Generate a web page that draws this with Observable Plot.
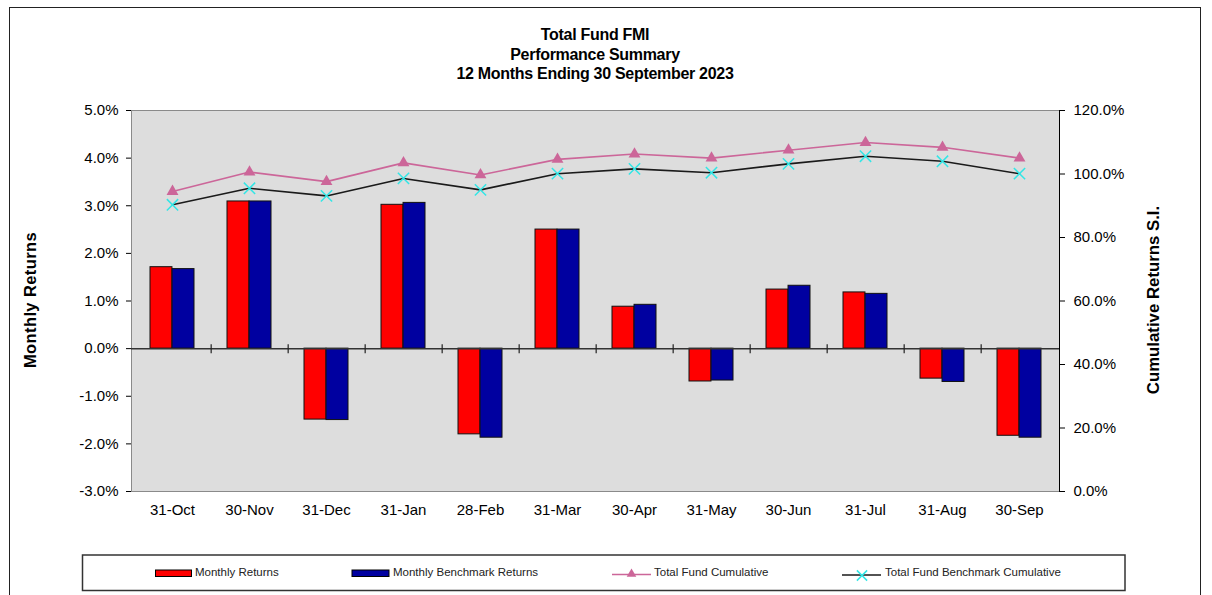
<!DOCTYPE html>
<html><head><meta charset="utf-8">
<script src="https://cdn.jsdelivr.net/npm/d3@7"></script>
<script src="https://cdn.jsdelivr.net/npm/@observablehq/plot@0.6"></script>
<style>
body{margin:0;background:#fff;font-family:"Liberation Sans",Arial,sans-serif;}
#wrap{position:relative;width:1212px;height:595px;overflow:hidden;background:#fff;}
#border{position:absolute;left:9px;top:7px;width:1192px;height:640px;border:1.5px solid #222;box-sizing:border-box;}
#title{position:absolute;left:0;width:1190px;top:25px;text-align:center;font-weight:bold;font-size:16px;line-height:19.5px;letter-spacing:-0.3px;color:#000;}
.plot{position:absolute;left:0;top:0;}
.ytitle{position:absolute;white-space:nowrap;transform:translate(-50%,-50%) rotate(-90deg);color:#000;}
#legend{position:absolute;left:0;top:0;}
</style>
</head><body>
<div id="wrap">
  <div id="border"></div>
  <div id="title"></div>
  <div id="p1" class="plot"></div>
  <div id="p2" class="plot"></div>
  <div id="ytl" class="ytitle" style="left:30px;top:300px;font-weight:bold;font-size:16.5px;letter-spacing:0.4px;"></div>
  <div id="ytr" class="ytitle" style="left:1154px;top:300px;font-weight:bold;font-size:16.8px;"></div>
  <svg id="legend" width="1212" height="595"></svg>
</div>
<script>
const titleLines = ["Total Fund FMI", "Performance Summary", "12 Months Ending 30 September 2023"];
const leftAxisTitle = "Monthly Returns";
const rightAxisTitle = "Cumulative Returns S.I.";
const months = ["31-Oct","30-Nov","31-Dec","31-Jan","28-Feb","31-Mar","30-Apr","31-May","30-Jun","31-Jul","31-Aug","30-Sep"];
const monthlyReturns = [1.71, 3.09, -1.49, 3.02, -1.80, 2.50, 0.88, -0.69, 1.24, 1.18, -0.63, -1.83];
const benchmarkReturns = [1.67, 3.09, -1.50, 3.06, -1.87, 2.50, 0.92, -0.67, 1.32, 1.15, -0.70, -1.87];
const fundCumulative = [94.5, 100.6, 97.6, 103.5, 99.7, 104.6, 106.3, 105.0, 107.5, 109.9, 108.4, 105.0];
const benchCumulative = [90.3, 95.5, 93.1, 98.6, 95.0, 100.1, 101.6, 100.4, 103.2, 105.6, 104.0, 100.1];
const leftTicks = [-3, -2, -1, 0, 1, 2, 3, 4, 5];
const rightTicks = [0, 20, 40, 60, 80, 100, 120];
const seriesNames = ["Monthly Returns", "Monthly Benchmark Returns", "Total Fund Cumulative", "Total Fund Benchmark Cumulative"];
const colors = {fund: "#FF0000", bench: "#0000A0", fundCum: "#CC6699", benchCum: "#1a1a1a", cross: "#33E6E6"};

document.getElementById("title").innerHTML = titleLines.join("<br>");
document.getElementById("ytl").textContent = leftAxisTitle;
document.getElementById("ytr").textContent = rightAxisTitle;

const data = months.map((m, i) => ({month: m, fund: monthlyReturns[i], bench: benchmarkReturns[i], fundCum: fundCumulative[i], benchCum: benchCumulative[i]}));

const W = 1212, H = 540, mL = 131, mR = 153, mT = 110, mB = 49;
const pad = 0.43;
const step = (W - mL - mR) / months.length;
const bw = step * (1 - pad);
const font = '"Liberation Sans", Arial, sans-serif';
const xOpts = {domain: months, paddingInner: pad, paddingOuter: pad / 2};
const style = {fontFamily: font, fontSize: "15px", color: "#000", background: "transparent", overflow: "visible"};

const p1 = Plot.plot({
  width: W, height: H, marginLeft: mL, marginRight: mR, marginTop: mT, marginBottom: mB,
  style,
  x: {...xOpts, label: null, tickSize: 0, tickPadding: 13, line: true},
  y: {domain: [leftTicks[0], leftTicks[leftTicks.length - 1]], ticks: leftTicks, tickFormat: d => d.toFixed(1) + "%", label: null, tickSize: 5, tickPadding: 8, line: true},
  marks: [
    Plot.frame({fill: "#DDDDDD", stroke: "#8a8a8a"}),
    Plot.barY(data, {x: "month", y: "fund", fill: colors.fund, stroke: "#111", strokeWidth: 1, insetRight: bw / 2}),
    Plot.barY(data, {x: "month", y: "bench", fill: colors.bench, stroke: "#111", strokeWidth: 1, insetLeft: bw / 2}),
    Plot.ruleY([0], {stroke: "#333", strokeWidth: 1.5}),
    Plot.ruleX(months.slice(0, -1), {x: d => d, y1: 0, y2: 0, dx: step / 2, insetTop: -4, insetBottom: -5, stroke: "#222", strokeWidth: 1.2})
  ]
});
document.getElementById("p1").appendChild(p1);

const p2 = Plot.plot({
  width: W, height: H, marginLeft: mL, marginRight: mR, marginTop: mT, marginBottom: mB,
  style,
  x: {...xOpts, axis: null},
  y: {domain: [rightTicks[0], rightTicks[rightTicks.length - 1]], ticks: rightTicks, tickFormat: d => d.toFixed(1) + "%", axis: "right", label: null, tickSize: 5, tickPadding: 9, line: true},
  marks: [
    Plot.lineY(data, {x: "month", y: "fundCum", stroke: colors.fundCum, strokeWidth: 1.6}),
    Plot.dot(data, {x: "month", y: "fundCum", symbol: "triangle", r: 4.4, fill: colors.fundCum, stroke: "none"}),
    Plot.lineY(data, {x: "month", y: "benchCum", stroke: colors.benchCum, strokeWidth: 1.6}),
    Plot.dot(data, {x: "month", y: "benchCum", symbol: "times", r: 5.2, stroke: colors.cross, strokeWidth: 1.5})
  ]
});
document.getElementById("p2").appendChild(p2);

// legend
const lg = d3.select("#legend");
lg.append("rect").attr("x", 82.5).attr("y", 555).attr("width", 1042.5).attr("height", 35.5)
  .attr("fill", "#fff").attr("stroke", "#333").attr("stroke-width", 1.5);
const tFont = {family: font, size: "11.5px", fill: "#222"};
function label(x, txt) {
  lg.append("text").attr("x", x).attr("y", 576).attr("font-family", tFont.family)
    .attr("font-size", tFont.size).attr("fill", tFont.fill).text(txt);
}
lg.append("rect").attr("x", 155.5).attr("y", 570).attr("width", 36).attr("height", 6.5).attr("fill", colors.fund).attr("stroke", "#000").attr("stroke-width", 1);
label(195, seriesNames[0]);
lg.append("rect").attr("x", 352).attr("y", 570).attr("width", 37).attr("height", 6.5).attr("fill", colors.bench).attr("stroke", "#000").attr("stroke-width", 1);
label(393, seriesNames[1]);
lg.append("line").attr("x1", 612).attr("x2", 651).attr("y1", 574.5).attr("y2", 574.5).attr("stroke", colors.fundCum).attr("stroke-width", 1.6);
lg.append("path").attr("d", d3.symbol(d3.symbolTriangle, 40)()).attr("transform", "translate(631.5,574)").attr("fill", colors.fundCum);
label(654, seriesNames[2]);
lg.append("line").attr("x1", 842).attr("x2", 881).attr("y1", 575).attr("y2", 575).attr("stroke", colors.benchCum).attr("stroke-width", 1.6);
lg.append("path").attr("d", d3.symbol(d3.symbolTimes, 70)()).attr("transform", "translate(862,575.5)").attr("fill", "none").attr("stroke", colors.cross).attr("stroke-width", 1.5);
label(885, seriesNames[3]);
</script>
</body></html>
